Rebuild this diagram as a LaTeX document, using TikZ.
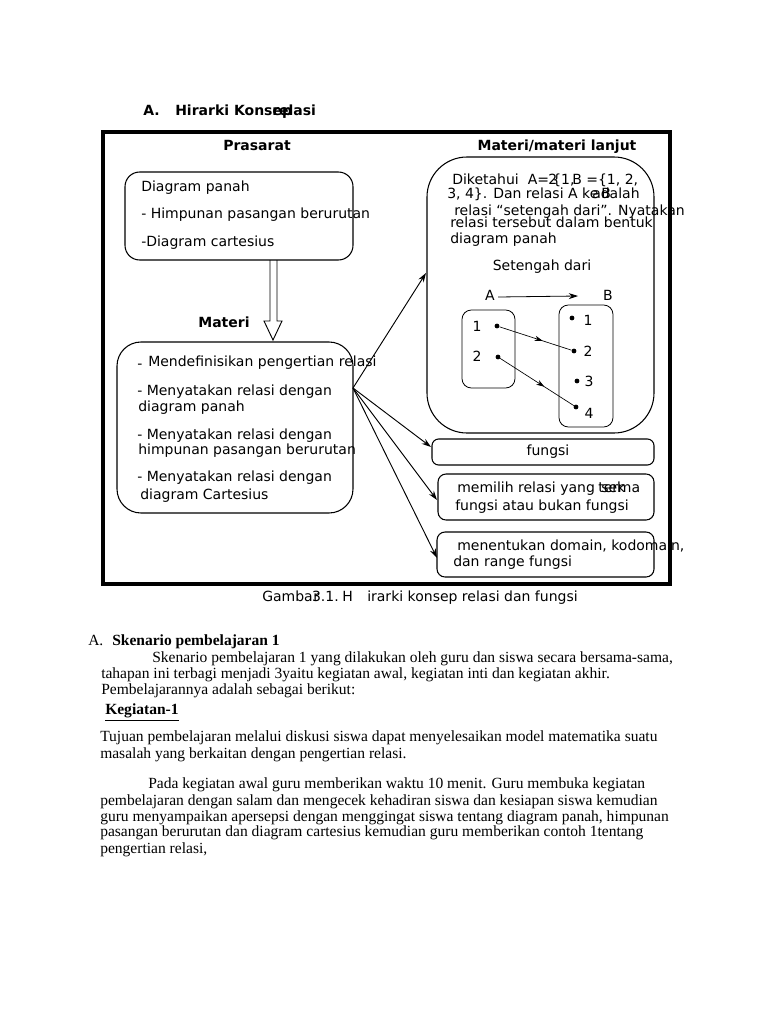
\documentclass[tikz,border=0pt]{standalone}
\usepackage{fontspec}
\setmainfont{Liberation Serif}
\newfontfamily\dv{DejaVu Sans}
\usetikzlibrary{arrows.meta,fit,decorations.markings}
\begin{document}
\begin{tikzpicture}[x=0.75pt,y=-0.75pt,
  sf/.style={font=\dv\fontsize{10.5}{12}\selectfont, inner sep=0pt, anchor=west, text height=7.6pt, text depth=2.2pt},
  sfb/.style={font=\dv\bfseries\fontsize{10.5}{12}\selectfont, inner sep=0pt, text height=7.6pt, text depth=2.2pt},
  body/.style={font=\fontsize{11.65}{13}\selectfont, inner sep=0pt, anchor=west, text height=7.8pt, text depth=2.2pt},
  bodyb/.style={body, font=\bfseries\fontsize{11.65}{13}\selectfont},
  rbox/.style={draw, line width=0.8pt, inner sep=0pt},
  arr/.style={-{Stealth[length=7pt,width=4.5pt]}, line width=0.7pt},
  dotn/.style={circle, fill, inner sep=0pt, minimum size=3.6pt},
  midarr/.style={line width=0.5pt, postaction={decorate}, decoration={markings, mark=at position 0.6 with {\arrow{Stealth[length=6pt,width=4pt]}}}},
]
\useasboundingbox[fill=white] (0,0) rectangle (768,1024);

% heading
\node[sfb, anchor=west] (hA) at (143,112) {A.};
\node[sfb, anchor=west] (hH) at (175,112) {Hirarki Konsep};
\node[sfb, anchor=west] (hR) at (272,112) {relasi};

% outer frame
\node (frame) [draw, line width=2.3pt, inner sep=0pt, fit={(103,132) (670,584)}] {};
\node[sfb] (tPras) at (257,147) {Prasarat};
\node[sfb] (tLanj) at (557,147) {Materi/materi lanjut};

% Prasarat box
\node (pras) [rbox, rounded corners=11pt, fit={(125,172) (353,260)}] {};
\node[sf] (p1) at (141,188) {Diagram panah};
\node[sf] (p2) at (141,215) {- Himpunan pasangan berurutan};
\node[sf] (p3) at (141,243) {-Diagram cartesius};

% hollow arrow
\draw[line width=0.7pt, line join=miter] (270,260) -- (270,321) -- (264,321) -- (273,340) -- (282,321) -- (277,321) -- (277,260);
\node[sfb] (tMat) at (224,324) {Materi};

% Materi box
\node (mat) [rbox, rounded corners=18pt, fit={(117,342) (353,513)}] {};
\node[sf] (m1a) at (137,365) {-};
\node[sf] (m1) at (148,363) {Mendefinisikan pengertian relasi};
\node[sf] (m2) at (137,392) {- Menyatakan relasi dengan};
\node[sf] (m2b) at (138,408) {diagram panah};
\node[sf] (m3) at (137,436) {- Menyatakan relasi dengan};
\node[sf] (m3b) at (138,451) {himpunan pasangan berurutan};
\node[sf] (m4) at (137,478) {- Menyatakan relasi dengan};
\node[sf] (m4b) at (140,496) {diagram Cartesius};

% Big right box
\node (big) [rbox, rounded corners=30pt, fit={(427,157) (654,433)}] {};
\node[sf] (b1) at (452,181) {Diketahui\ \ A=};
\node[sf] (b1x) at (548,181) {2};
\node[sf] (b1y) at (552,181) {\{1,};
\node[sf] (b1z) at (572,181) {B =\{1, 2,};
\node[sf] (b2) at (447,195) {3, 4\}. Dan relasi A ke};
\node[sf] (b2x) at (592,195) {adalah};
\node[sf] (b2y) at (601,195) {B};
\node[sf] (b3) at (454,212) {relasi “setengah dari”. Nyatakan};
\node[sf] (b4) at (450,224) {relasi tersebut dalam bentuk};
\node[sf] (b5) at (450,240) {diagram panah};
\node[sf, anchor=center] (b6) at (542,267) {Setengah dari};

% Venn
\node[sf, anchor=center] (la) at (490,297) {A};
\node[sf, anchor=center] (lb) at (608,297) {B};
\coordinate (atip) at (578,296);
\draw[arr, line width=0.6pt] (la.east) ++(3,0) -- (atip);
\node (setA) [rbox, line width=0.6pt, rounded corners=7pt, fit={(462,310) (515,388)}] {};
\node (setB) [rbox, line width=0.6pt, rounded corners=7pt, fit={(559,305) (613,427)}] {};
\node[sf, anchor=center] (a1) at (477,328) {1};
\node[sf, anchor=center] (a2) at (477,358) {2};
\node[dotn] (da1) at (497,326) {};
\node[dotn] (da2) at (498,357) {};
\node[dotn] (db1) at (572,318) {};
\node[dotn] (db2) at (574,351) {};
\node[dotn] (db3) at (577,381) {};
\node[dotn] (db4) at (576,407) {};
\node[sf, anchor=center] (bl1) at (588,322) {1};
\node[sf, anchor=center] (bl2) at (588,353) {2};
\node[sf, anchor=center] (bl3) at (589,383) {3};
\node[sf, anchor=center] (bl4) at (589,415) {4};
\draw[midarr] (da1) -- (db2);
\draw[midarr] (da2) -- (db4);

% small boxes
\node (fung) [rbox, rounded corners=5pt, fit={(432,439) (654,465)}] {};
\node[sf, anchor=center] (ft) at (548,452) {fungsi};
\node (pil) [rbox, rounded corners=6pt, fit={(438,474) (654,520)}] {};
\node[sf] (pl1) at (457,489) {memilih relasi yang};
\node[sf] (pl1x) at (598,489) {terma};
\node[sf] (pl1y) at (601,489) {sek};
\node[sf] (pl2) at (455,507) {fungsi atau bukan fungsi};
\node (dom) [rbox, rounded corners=6pt, fit={(437,532) (654,577)}] {};
\node[sf] (dm1) at (457,547) {menentukan domain, kodomain,};
\node[sf] (dm2) at (453,563) {dan range fungsi};

% connectors from Materi
\coordinate (mo) at (353,388);
\coordinate (e1) at (426,273);
\coordinate (e2) at (431,447);
\coordinate (e3) at (437,500);
\coordinate (e4) at (437,558);
\draw[arr] (mo) -- (e1);
\draw[arr] (mo) -- (e2);
\draw[arr] (mo) -- (e3);
\draw[arr] (mo) -- (e4);

% caption
\node[sf] (c1) at (262,598) {Gamba};
\node[sf] (c1r) at (c1.east) {r};
\node[sf] (c2) at ([xshift=-1]c1.east) {3.1.};
\node[sf] (c3) at (342,598) {H};
\node[sf] (c4) at (367,598) {irarki konsep relasi dan fungsi};

% body text
\node[body] (s0) at (88,642) {A.};
\node[bodyb] (s0b) at (112,642) {Skenario pembelajaran 1};
\node[body] (s1) at (152,659) {Skenario pembelajaran 1 yang dilakukan oleh guru dan siswa secara bersama-sama,};
\node[body] (s2) at (101,675) {tahapan ini terbagi menjadi 3yaitu kegiatan awal, kegiatan inti dan kegiatan akhir.};
\node[body] (s3) at (101,691) {Pembelajarannya adalah sebagai berikut:};
\node[bodyb] (k1) at (105,711) {\underline{Kegiatan-1}};
\node[body] (t1) at (100,738) {Tujuan pembelajaran melalui diskusi siswa dapat menyelesaikan model matematika suatu};
\node[body] (t2) at (100,755) {masalah yang berkaitan dengan pengertian relasi.};
\node[body] (q1) at (148,785) {Pada kegiatan awal guru memberikan waktu 10 menit. Guru membuka kegiatan};
\node[body] (q2) at (100,802) {pembelajaran dengan salam dan mengecek kehadiran siswa dan kesiapan siswa kemudian};
\node[body] (q3) at (100,818) {guru menyampaikan apersepsi dengan menggingat siswa tentang diagram panah, himpunan};
\node[body] (q4) at (100,833) {pasangan berurutan dan diagram cartesius kemudian guru memberikan contoh 1tentang};
\node[body] (q5) at (100,850) {pengertian relasi,};
\end{tikzpicture}
\end{document}
